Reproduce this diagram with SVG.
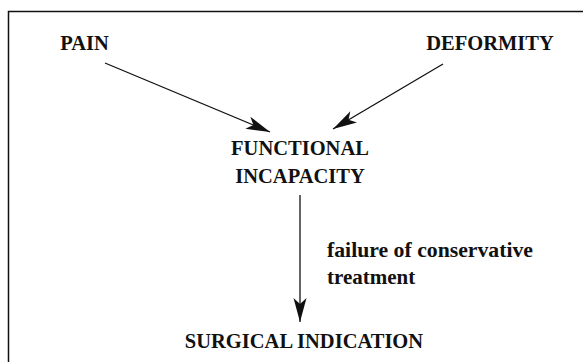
<svg xmlns="http://www.w3.org/2000/svg" width="583" height="362" viewBox="0 0 583 362">
<defs>
<marker id="ah" markerUnits="userSpaceOnUse" markerWidth="30" markerHeight="20" viewBox="-26 -10 30 20" refX="0" refY="0" orient="auto">
<path d="M0,0 L-24,-6.5 L-18,0 L-24,6.5 Z" fill="#111"/>
</marker>
</defs>
<path d="M8.5,362 V11.5 H583" stroke="#111" stroke-width="1.5" fill="none"/>
<g font-family="'Liberation Serif', serif" font-weight="bold" fill="#111">
<g id="pain"><text x="84.5" y="50" text-anchor="middle" font-size="20.5">PAIN</text></g>
<g id="deformity"><text x="490" y="50" text-anchor="middle" font-size="20.5">DEFORMITY</text></g>
<g id="functional"><text x="300" y="155" text-anchor="middle" font-size="20.5">FUNCTIONAL</text><text x="300" y="183" text-anchor="middle" font-size="20.5">INCAPACITY</text></g>
<g id="surgical"><text x="304" y="348" text-anchor="middle" font-size="20.5">SURGICAL INDICATION</text></g>
<g id="connectors" stroke="#111" stroke-width="1.3">
<line x1="105" y1="63" x2="270" y2="132" marker-end="url(#ah)"/>
<line x1="443" y1="64" x2="333" y2="129" marker-end="url(#ah)"/>
<line x1="300" y1="195" x2="300" y2="322" marker-end="url(#ah)"/>
<text x="327" y="257" stroke="none" font-size="21" textLength="206" lengthAdjust="spacingAndGlyphs">failure of conservative</text>
<text x="327" y="284" stroke="none" font-size="21">treatment</text>
</g>
</g>
</svg>
